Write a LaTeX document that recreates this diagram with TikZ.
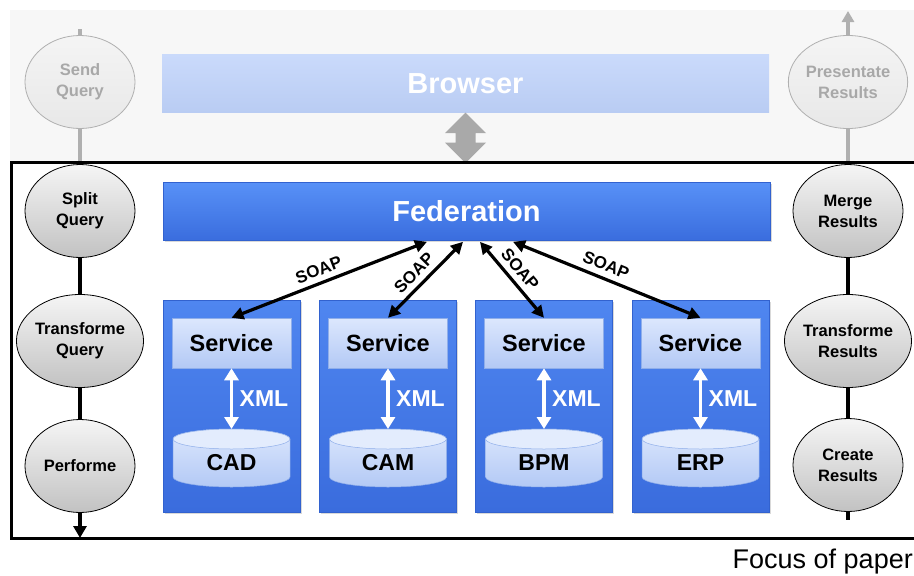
\documentclass[tikz,border=0pt]{standalone}
\usepackage{fontspec}
\setmainfont{Liberation Sans}
\usetikzlibrary{arrows.meta,shadows,calc,shapes.geometric}

\definecolor{bandgray}{HTML}{F7F7F7}
\definecolor{fadeline}{HTML}{B0B0B0}
\definecolor{fadetext}{HTML}{A8A8A8}
\definecolor{fadefillA}{HTML}{F4F4F4}
\definecolor{fadefillB}{HTML}{E8E8E8}
\definecolor{browserA}{HTML}{CADAFB}
\definecolor{browserB}{HTML}{B9CCF3}
\definecolor{blueA}{HTML}{5891F7}
\definecolor{blueB}{HTML}{3A6DDE}
\definecolor{colA}{HTML}{4F86F0}
\definecolor{colB}{HTML}{3A6CDD}
\definecolor{blueEdge}{HTML}{3262CF}
\definecolor{paleA}{HTML}{DCE7FD}
\definecolor{paleB}{HTML}{B3C9F5}
\definecolor{paleEdge}{HTML}{8FAEEA}
\definecolor{procA}{HTML}{F5F5F5}
\definecolor{procB}{HTML}{C2C2C2}
\definecolor{dblarrow}{HTML}{A9A9A9}

\begin{document}
\begin{tikzpicture}[x=1pt,y=-1pt,
  bigbox/.style={rectangle, minimum width=607pt, minimum height=58pt, inner sep=0pt,
    text=white, font=\fontsize{29}{34}\selectfont\bfseries},
  fedbox/.style={bigbox, top color=blueA, bottom color=blueB, draw=blueEdge, line width=0.6pt,
    drop shadow={shadow xshift=1.5pt, shadow yshift=-1.5pt, opacity=0.3}},
  browserbox/.style={bigbox, top color=browserA, bottom color=browserB},
  colbox/.style={rectangle, minimum width=137pt, minimum height=212pt, inner sep=0pt,
    top color=colA, bottom color=colB, draw=blueEdge, line width=0.6pt,
    drop shadow={shadow xshift=1.5pt, shadow yshift=-1.5pt, opacity=0.3}},
  svcbox/.style={rectangle, minimum width=119pt, minimum height=50pt, inner sep=0pt,
    top color=paleA, bottom color=paleB, draw=paleEdge, line width=0.5pt,
    font=\fontsize{23.5}{28}\selectfont\bfseries},
  dblab/.style={inner sep=0pt, font=\fontsize{23}{28}\selectfont\bfseries},
  xmllab/.style={inner sep=0pt, text=white, font=\fontsize{23}{28}\selectfont\bfseries},
  xmlarrow/.style={white, line width=3.5pt, {Triangle[width=14pt,length=12pt]}-{Triangle[width=14pt,length=12pt]}},
  soap/.style={black, line width=3.2pt, {Triangle[width=12pt,length=12pt]}-{Triangle[width=12pt,length=12pt]}},
  soaplab/.style={sloped, above=2.5pt, pos=0.47, inner sep=3pt, font=\fontsize{17}{20}\selectfont\bfseries},
  procell/.style={ellipse, minimum width=110pt, minimum height=93pt, inner sep=0pt,
    top color=procA, bottom color=procB, draw=black, line width=0.8pt, align=center,
    font=\fontsize{16.5}{21}\selectfont\bfseries},
  fadedell/.style={ellipse, minimum width=110pt, minimum height=93pt, inner sep=0pt,
    top color=fadefillA, bottom color=fadefillB, draw=fadeline, line width=0.8pt, align=center,
    text=fadetext, font=\fontsize{16.5}{21}\selectfont\bfseries},
  chain/.style={black, line width=4pt},
  fadechain/.style={fadeline, line width=3.5pt}
]
\useasboundingbox (0,0) rectangle (914,576);

% pale band behind the browser layer
\fill[bandgray] (10,10) rectangle (914,162);

% ---------- browser layer ----------
\node[browserbox] (browser) at (465.5,83.5) {Browser};
\node[fadedell] (send) at (80,82) {Send\\Query};
\node[fadedell] (present) at (848,82) {Presentate\\Results};
\coordinate (sendtop) at (80,29);
\coordinate (sendbot) at (80,162);
\coordinate (presenttop) at (848,11);
\coordinate (presentbot) at (848,162);
\draw[fadechain] (send) -- (sendtop);
\draw[fadechain] (send) -- (sendbot);
\draw[fadechain, -{Triangle[width=12pt,length=11pt]}] (present) -- (presenttop);
\draw[fadechain] (present) -- (presentbot);

% gray double arrow between browser and federation
\coordinate (bs) at (browser.south);
\fill[dblarrow] (bs) -- ++(20.5,20.5) -- ++(-10.5,0) -- ++(0,9.5) -- ++(10.5,0)
  -- ++(-20.5,20.5) -- ++(-20.5,-20.5) -- ++(10.5,0) -- ++(0,-9.5) -- ++(-10.5,0) -- cycle;

% ---------- frame of the federated layer ----------
\draw[line width=3pt] (11,162) rectangle (930,538);

\node[fedbox] (fed) at (466.5,211) {Federation};

% service columns with their databases
\foreach \i/\cx/\lab in {1/231.5/CAD, 2/388/CAM, 3/544/BPM, 4/700.5/ERP}{
  \node[colbox] (col\i) at (\cx,406) {};
  \node[svcbox] (svc\i) at (\cx,343) {Service};
  % database cylinder
  \shade[top color=paleA, bottom color=paleB, draw=paleEdge, line width=0.5pt]
    (\cx-58.5,439) -- (\cx-58.5,477)
    arc[start angle=180, end angle=360, x radius=58.5pt, y radius=10pt]
    -- (\cx+58.5,439)
    arc[start angle=0, end angle=180, x radius=58.5pt, y radius=10pt] -- cycle;
  \fill[paleA!80!white, draw=paleEdge, line width=0.5pt] (\cx,439) ellipse [x radius=58.5pt, y radius=10pt];
  \coordinate (dbtop\i) at (\cx,429);
  \node[dblab] (db\i) at (\cx,463) {\lab};
  \draw[xmlarrow] (svc\i.south) -- (dbtop\i);
  \node[xmllab, anchor=west] (xml\i) at (\cx+8,399) {XML};
}

% SOAP connections
\coordinate (f1) at ($(fed.south)+(-39.5,1.5)$);
\coordinate (f2) at ($(fed.south)+(-3.5,1.5)$);
\coordinate (f3) at ($(fed.south)+(13.5,1.5)$);
\coordinate (f4) at ($(fed.south)+(46.5,1.5)$);
\draw[soap] (svc1.north) -- node[soaplab] {SOAP} (f1);
\draw[soap] (svc2.north) -- node[soaplab] {SOAP} (f2);
\draw[soap] (f3) -- node[soaplab] {SOAP} (svc3.north);
\draw[soap] (f4) -- node[soaplab] {SOAP} (svc4.north);

% query processing chain
\node[procell] (split) at (80,211) {Split\\Query};
\node[procell] (tq) at (80,341) {Transforme\\Query};
\node[procell] (perf) at (80,466) {Performe};
\coordinate (perfend) at (80,538);
\draw[chain] (split) -- (tq);
\draw[chain] (tq) -- (perf);
\draw[chain, -{Triangle[width=13pt,length=12pt]}] (perf) -- (perfend);

% result processing chain
\node[procell] (merge) at (848,211) {Merge\\Results};
\node[procell] (tr) at (848,341) {Transforme\\Results};
\node[procell] (create) at (848,465) {Create\\Results};
\coordinate (createend) at (848,520);
\draw[chain] (merge) -- (tr);
\draw[chain] (tr) -- (create);
\draw[chain] (create) -- (createend);

\node[anchor=east, inner sep=0pt, font=\fontsize{27}{32}\selectfont] (focus) at (913,562) {Focus of paper};
\end{tikzpicture}
\end{document}
